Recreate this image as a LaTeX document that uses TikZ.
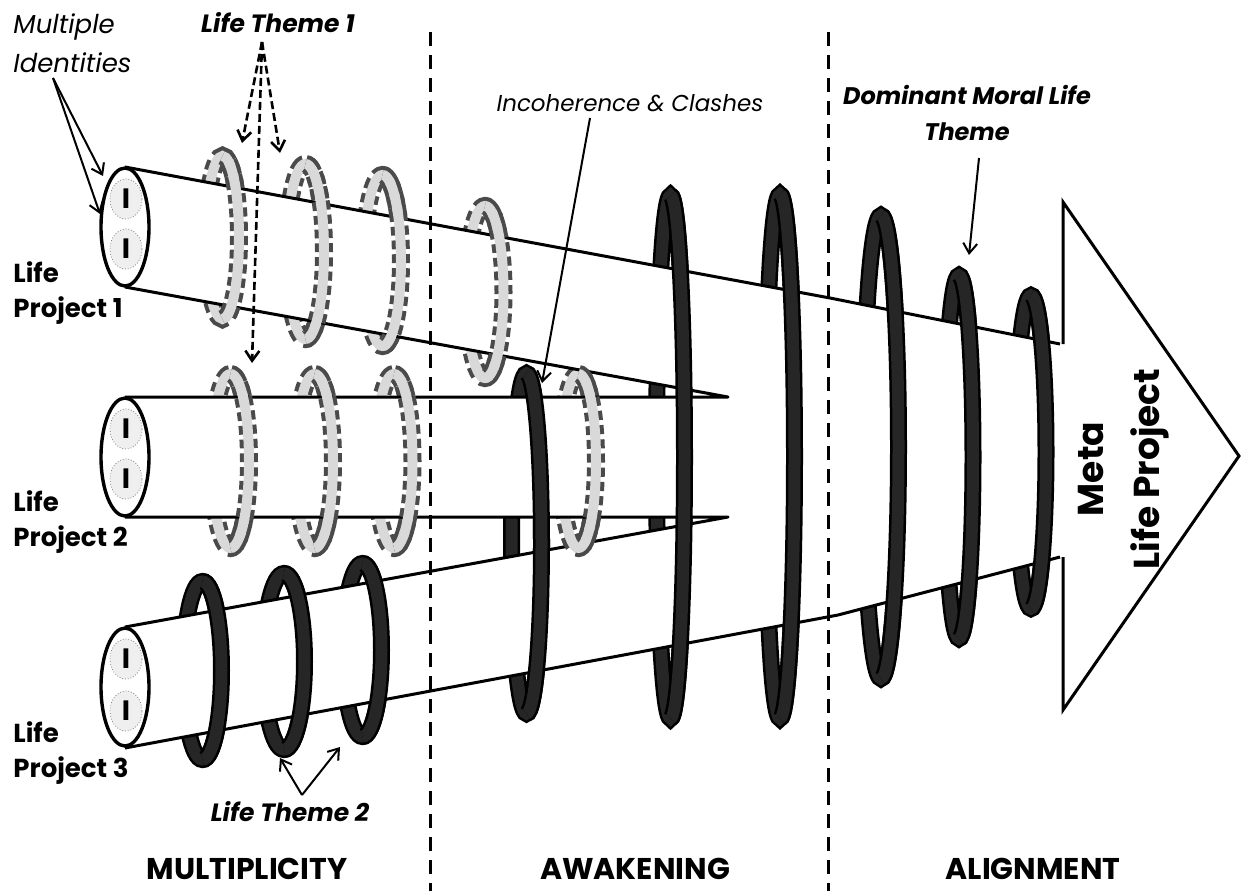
\documentclass[tikz,border=0pt]{standalone}
\usepackage{fontspec}
\setmainfont{Poppins}
\usetikzlibrary{positioning,arrows.meta,shapes.geometric}
\definecolor{ringgrey}{HTML}{D9D9D9}
\definecolor{ringedge}{HTML}{4A4A4A}
\definecolor{ringdark}{HTML}{262626}
\definecolor{idfill}{HTML}{EFEFEF}

\begin{document}
\begin{tikzpicture}[x=0.5pt, y=-0.5pt,
    tubeline/.style={line width=1.5pt, line join=round},
    greyedge/.style={draw=ringedge, line width=9pt, dash pattern=on 4.5pt off 2.5pt},
    greyband/.style={draw=ringgrey, line width=5pt},
    blackedge/.style={draw=black, line width=8.5pt},
    blackband/.style={draw=ringdark, line width=6pt},
    endcap/.style={ellipse, draw, line width=1.7pt, fill=white, minimum width=24pt, minimum height=59pt, inner sep=0pt},
    idring/.style={ellipse, draw=gray, densely dotted, fill=idfill, minimum width=16pt, minimum height=20pt, inner sep=0pt, font=\bfseries\fontsize{14}{14}\selectfont},
    project/.style={anchor=west, align=left, inner sep=0pt, font=\bfseries\fontsize{13}{17.5}\selectfont},
    phase/.style={inner sep=0pt, font=\bfseries\fontsize{15}{15}\selectfont},
    theme/.style={inner sep=0pt, align=center, font=\bfseries\itshape\fontsize{12.5}{18}\selectfont},
    note/.style={line width=1pt, -{Straight Barb[length=5pt,width=7pt]}},
    dashnote/.style={note, line width=1.3pt, dash pattern=on 4pt off 2pt},
    divider/.style={line width=1.5pt, dash pattern=on 7pt off 4.5pt}]
    \useasboundingbox (0,0) rectangle (1243,891);
    \def\greyrings{222.5/237.5/16.5/81.5, 305.5/251.5/18.5/87.5, 382.5/260.5/18.5/85.5, 485/292/18.5/86,
        230.5/461/18.5/87, 314.5/461/18.5/87, 394/461/18.5/87, 578.5/461/17.5/87}
    \def\blackrings{202.5/670.5/19/89, 284/661.5/20.5/88, 362.5/650/19/86.5, 526.5/543.5/15/170,
        670.5/457/14/261.5, 780/456.5/14.5/262, 881/447/17.5/231.5, 959/457/14/181.5, 1031/452/15/156.5}
    % rings behind the tubes
    \foreach \cx/\cy/\rx/\ry in \greyrings {
        \draw[greyedge] (\cx,\cy) ellipse [x radius=\rx, y radius=\ry];
        \draw[greyband] (\cx,\cy) ellipse [x radius=\rx, y radius=\ry];
    }
    \foreach \cx/\cy/\rx/\ry in \blackrings {
        \draw[blackedge] (\cx,\cy) ellipse [x radius=\rx, y radius=\ry];
        \draw[blackband] (\cx,\cy) ellipse [x radius=\rx, y radius=\ry];
    }
    % tubes
    \fill[white] (125,167) -- (830,298) -- (1060,344) -- (1060,557) -- (838,615) -- (125,748)
        -- (125,627) -- (728,517) -- (125,517) -- (125,397) -- (728,397) -- (125,287) -- cycle;
    \draw[tubeline] (125,167) -- (830,298) -- (1060,344);
    \draw[tubeline] (125,748) -- (838,615) -- (1060,557);
    \draw[tubeline] (125,287) -- (728,397) -- (125,397);
    \draw[tubeline] (125,517) -- (728,517) -- (125,627);
    % rings in front
    \foreach \cx/\cy/\rx/\ry in \greyrings {
        \draw[greyedge] (\cx,\cy-\ry) arc [start angle=-90, end angle=90, x radius=\rx, y radius=\ry];
        \draw[greyband] (\cx,\cy-\ry) arc [start angle=-90, end angle=90, x radius=\rx, y radius=\ry];
    }
    \begin{scope}
        \clip (540,519) rectangle (620,575);
        \draw[greyedge] (578.5,461) ellipse [x radius=17.5, y radius=87];
        \draw[greyband] (578.5,461) ellipse [x radius=17.5, y radius=87];
    \end{scope}
    \foreach \cx/\cy/\rx/\ry in \blackrings {
        \draw[blackedge] (\cx,\cy-\ry) arc [start angle=-90, end angle=90, x radius=\rx, y radius=\ry];
        \draw[blackband] (\cx,\cy-\ry) arc [start angle=-90, end angle=90, x radius=\rx, y radius=\ry];
    }
    % tube ends with identities
    \node[endcap] (capone) at (125,227) {};
    \node[endcap] (captwo) at (125,457) {};
    \node[endcap] (capthree) at (125,687) {};
    \node[idring] (ida) at (126,199) {I};
    \node[idring] (idb) at (126,249) {I};
    \node[idring] (idc) at (126,429) {I};
    \node[idring] (idd) at (126,479) {I};
    \node[idring] (ide) at (126,659) {I};
    \node[idring] (idf) at (126,711) {I};
    % meta arrow
    \draw[line width=1.5pt] (1063,344) -- (1063,202) -- (1239,456) -- (1063,710) -- (1063,557);
    \node[rotate=90, align=center, inner sep=0pt, font=\bfseries\fontsize{18}{28}\selectfont] (meta) at (1124,469) {Meta\\Life Project};
    % labels
    \node[project] (projone) at (13,293) {Life\\Project 1};
    \node[project] (projtwo) at (13,522) {Life\\Project 2};
    \node[project] (projthree) at (13,753) {Life\\Project 3};
    \node[anchor=west, align=left, inner sep=0pt, font=\itshape\fontsize{13}{19.5}\selectfont] (identities) at (13,43) {Multiple\\Identities};
    \node[theme] (themeone) at (278,23) {Life Theme 1};
    \node[theme] (themetwo) at (290,812) {Life Theme 2};
    \node[theme, font=\bfseries\itshape\fontsize{12}{18}\selectfont] (dominant) at (967,113) {Dominant Moral Life\\Theme};
    \node[inner sep=0pt, font=\itshape\fontsize{11.5}{11.5}\selectfont] (clashes) at (630,103) {Incoherence \& Clashes};
    \node[phase] (multiplicity) at (247,869) {MULTIPLICITY};
    \node[phase] (awakening) at (635,869) {AWAKENING};
    \node[phase] (alignment) at (1033,869) {ALIGNMENT};
    % pointers
    \coordinate (idtail) at (53,78);
    \coordinate (idtipa) at (103,176);
    \coordinate (idtipb) at (100,214);
    \draw[note] (idtail) -- (idtipa);
    \draw[note] (idtail) -- (idtipb);
    \coordinate (onetail) at (262,42);
    \coordinate (onetipa) at (242,143);
    \coordinate (onetipb) at (280,153);
    \coordinate (onetipc) at (252,363);
    \draw[dashnote] (onetail) -- (onetipa);
    \draw[dashnote] (onetail) -- (onetipb);
    \draw[dashnote] (onetail) -- (onetipc);
    \coordinate (twotail) at (302,795);
    \coordinate (twotipa) at (280,758);
    \coordinate (twotipb) at (340,747);
    \draw[note] (twotail) -- (twotipa);
    \draw[note] (twotail) -- (twotipb);
    \coordinate (clashtail) at (590,118);
    \coordinate (clashtip) at (542,383);
    \draw[note] (clashtail) -- (clashtip);
    \coordinate (domtail) at (979,158);
    \coordinate (domtip) at (969,255);
    \draw[note] (domtail) -- (domtip);
    % phases
    \draw[divider] (430,32) -- (430,891);
    \draw[divider] (828,32) -- (828,891);
\end{tikzpicture}
\end{document}
